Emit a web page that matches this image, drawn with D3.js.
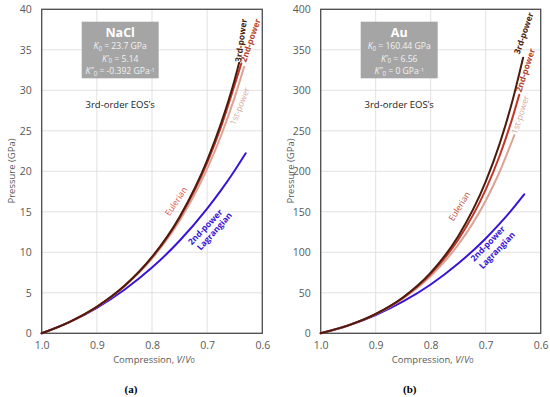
<!DOCTYPE html>
<html><head><meta charset="utf-8">
<script src="https://cdn.jsdelivr.net/npm/d3@7"></script>
<style>
html,body{margin:0;padding:0;background:#fff;}
svg{display:block;}
text{font-family:"Open Sans","Noto Sans",sans-serif;}
</style></head>
<body>
<svg id="chart" width="550" height="397"></svg>
<script>
// ---------- data ----------
const xTicks = [1.0, 0.9, 0.8, 0.7, 0.6];
const naclYTicks = [0, 5, 10, 15, 20, 25, 30, 35, 40];
const auYTicks = [0, 50, 100, 150, 200, 250, 300, 350, 400];

// NaCl, compression V/V0 and pressure (GPa)
const naclV3rd = [1.0, 0.95, 0.9, 0.85, 0.8, 0.75, 0.7, 0.675, 0.65, 0.642];
const naclP3rd = [0, 1.39, 3.28, 5.86, 9.42, 14.37, 21.35, 25.89, 31.34, 33.4];
const naclV2nd = [1.0, 0.95, 0.9, 0.85, 0.8, 0.75, 0.7, 0.675, 0.65, 0.638];
const naclP2nd = [0, 1.39, 3.27, 5.85, 9.38, 14.25, 21.05, 25.45, 30.7, 33.3];
const naclV1st = [1.0, 0.95, 0.9, 0.85, 0.8, 0.75, 0.7, 0.675, 0.65, 0.633];
const naclP1st = [0, 1.38, 3.26, 5.79, 9.22, 13.89, 20.3, 24.36, 29.16, 32.9];
const naclVLag = [1.0, 0.95, 0.9, 0.85, 0.8, 0.75, 0.7, 0.675, 0.65, 0.63];
const naclPLag = [0, 1.37, 3.15, 5.38, 8.11, 11.42, 15.39, 17.64, 20.1, 22.23];

// Au
const auV3rd = [1.0, 0.95, 0.9, 0.85, 0.8, 0.75, 0.7, 0.675, 0.65, 0.632];
const auP3rd = [0, 9.74, 23.92, 44.58, 74.89, 119.8, 187.2, 233.2, 290.4, 340.1];
const auV2nd = [1.0, 0.95, 0.9, 0.85, 0.8, 0.75, 0.7, 0.675, 0.65, 0.639];
const auP2nd = [0, 9.73, 23.79, 44.04, 73.24, 115.5, 177.4, 218.6, 269.0, 294.6];
const auV1st = [1.0, 0.95, 0.9, 0.85, 0.8, 0.75, 0.7, 0.675, 0.648];
const auP1st = [0, 9.71, 23.58, 43.17, 70.68, 109.3, 163.7, 198.8, 244.5];
const auVLag = [1.0, 0.95, 0.9, 0.85, 0.8, 0.75, 0.7, 0.675, 0.65, 0.63];
const auPLag = [0, 9.59, 22.55, 39.26, 60.2, 86.12, 117.1, 135.0, 154.5, 171.5];

const colors = {third: "#4b1c0e", second: "#c2372a", first: "#dba393", lag: "#3a14d6"};

// ---------- drawing ----------
const svg = d3.select("#chart");

const panels = [
  {x0: 41.7, x1: 262.3, yMax: 40, yTicks: naclYTicks, name: "NaCl",
   params: ["23.7 GPa", "5.14", "-0.392 GPa"], paramSup: [false, false, true], caption: "(a)",
   series: [
     {v: naclVLag, p: naclPLag, c: colors.lag},
     {v: naclV1st, p: naclP1st, c: colors.first},
     {v: naclV2nd, p: naclP2nd, c: colors.second},
     {v: naclV3rd, p: naclP3rd, c: colors.third}],
   labels: [
     {t: "3rd-power", x: 241.8, y: 40.5, a: -82, c: colors.third, bold: true},
     {t: "2nd-power", x: 251.3, y: 40.5, a: -71, c: "#b5452f", bold: true},
     {t: "1st-power", x: 240.5, y: 106.5, a: -68, c: "#d9a99b", bold: false},
     {t: "Eulerian", x: 176.7, y: 201.7, a: -56, c: "#e0544a", bold: false},
     {t: "2nd-power", x: 205.8, y: 227.5, a: -46, c: colors.lag, bold: true},
     {t: "Lagrangian", x: 215, y: 231.7, a: -48, c: colors.lag, bold: true}]},
  {x0: 320.7, x1: 540.7, yMax: 400, yTicks: auYTicks, name: "Au",
   params: ["160.44 GPa", "6.56", "0 GPa"], paramSup: [false, false, true], caption: "(b)",
   series: [
     {v: auVLag, p: auPLag, c: colors.lag},
     {v: auV1st, p: auP1st, c: colors.first},
     {v: auV2nd, p: auP2nd, c: colors.second},
     {v: auV3rd, p: auP3rd, c: colors.third}],
   labels: [
     {t: "3rd-power", x: 524.5, y: 33.5, a: -71, c: colors.third, bold: true},
     {t: "2nd-power", x: 526, y: 70.5, a: -72, c: "#b5452f", bold: true},
     {t: "1st-power", x: 521, y: 115, a: -72, c: "#d9a99b", bold: false},
     {t: "Eulerian", x: 460, y: 206.7, a: -58, c: "#c0503a", bold: false},
     {t: "2nd-power", x: 488.3, y: 244.2, a: -46, c: colors.lag, bold: true},
     {t: "Lagrangian", x: 497.5, y: 250.8, a: -46, c: colors.lag, bold: true}]}
];

const yTop = 9.3, yBot = 333.3;

panels.forEach(pn => {
  const x = d3.scaleLinear().domain([1.0, 0.6]).range([pn.x0, pn.x1]);
  const y = d3.scaleLinear().domain([0, pn.yMax]).range([yBot, yTop]);
  const g = svg.append("g");

  // grid
  g.append("g").selectAll("line").data(pn.yTicks).join("line")
    .attr("x1", pn.x0).attr("x2", pn.x1).attr("y1", d => y(d)).attr("y2", d => y(d))
    .attr("stroke", "#d9d9d9").attr("stroke-width", 0.8);
  g.append("g").selectAll("line").data(xTicks).join("line")
    .attr("x1", d => x(d)).attr("x2", d => x(d)).attr("y1", yTop).attr("y2", yBot)
    .attr("stroke", "#d9d9d9").attr("stroke-width", 0.8);

  // axes (labels only)
  const ya = g.append("g").attr("transform", `translate(${pn.x0},0)`)
    .call(d3.axisLeft(y).tickValues(pn.yTicks).tickSize(0).tickPadding(10));
  const xa = g.append("g").attr("transform", `translate(0,${yBot})`)
    .call(d3.axisBottom(x).tickValues(xTicks).tickSize(0).tickPadding(8).tickFormat(d3.format(".1f")));
  [ya, xa].forEach(a => {
    a.select(".domain").remove();
    a.selectAll("text").attr("fill", "#595959").style("font-size", "10.5px")
      .style("font-family", '"Open Sans","Noto Sans",sans-serif');
  });

  // frame
  g.append("rect").attr("x", pn.x0).attr("y", yTop).attr("width", pn.x1 - pn.x0).attr("height", yBot - yTop)
    .attr("fill", "none").attr("stroke", "#4d4d4d").attr("stroke-width", 1.3);

  // curves
  const line = d3.line().x(d => x(d[0])).y(d => y(d[1])).curve(d3.curveMonotoneX);
  pn.series.forEach(s => {
    g.append("path").datum(s.v.map((v, i) => [v, s.p[i]]))
      .attr("d", line).attr("fill", "none").attr("stroke", s.c).attr("stroke-width", 2)
      .attr("stroke-linecap", "round");
  });

  // curve labels
  pn.labels.forEach(l => {
    g.append("text").attr("transform", `translate(${l.x},${l.y}) rotate(${l.a})`)
      .attr("text-anchor", "middle").attr("dominant-baseline", "middle")
      .attr("fill", l.c).style("font-size", "8.5px").style("font-weight", l.bold ? 700 : 400)
      .text(l.t);
  });

  // info box
  const bx = pn.x0 + 40, bw = 77, by = 21.7, bh = 56.6;
  const cx = bx + bw / 2;
  g.append("rect").attr("x", bx).attr("y", by).attr("width", bw).attr("height", bh).attr("fill", "#a5a5a5");
  g.append("text").attr("x", cx).attr("y", 37).attr("text-anchor", "middle").attr("fill", "#ffffff")
    .style("font-size", "12.5px").style("font-weight", 700).text(pn.name);
  const primes = ["", "′", "″"];
  primes.forEach((pr, i) => {
    const t = g.append("text").attr("x", cx).attr("y", 49.3 + i * 12.5).attr("text-anchor", "middle")
      .attr("fill", "#f2f2f2").style("font-size", "8.6px");
    t.append("tspan").style("font-style", "italic").text("K");
    if (pr) t.append("tspan").style("font-style", "italic").text(pr);
    t.append("tspan").attr("dy", 1.5).style("font-size", "6.2px").text("0");
    t.append("tspan").attr("dy", -1.5).text(" = " + pn.params[i]);
    if (pn.paramSup[i]) {
      t.append("tspan").attr("dy", -2.5).style("font-size", "5.8px").text("-1");
    }
  });

  // 3rd-order EOS's
  g.append("text").attr("x", cx).attr("y", 108).attr("text-anchor", "middle").attr("fill", "#1a1a1a")
    .style("font-size", "9.5px").text("3rd-order EOS’s");

  // axis titles
  g.append("text").attr("transform", `translate(${pn.x0 - 27},171) rotate(-90)`)
    .attr("text-anchor", "middle").attr("fill", "#595959").style("font-size", "9.5px").text("Pressure (GPa)");
  const xt = g.append("text").attr("x", (pn.x0 + pn.x1) / 2 + 2).attr("y", 363).attr("text-anchor", "middle")
    .attr("fill", "#595959").style("font-size", "9.5px");
  xt.append("tspan").text("Compression, ");
  xt.append("tspan").style("font-style", "italic").text("V");
  xt.append("tspan").text("/");
  xt.append("tspan").style("font-style", "italic").text("V");
  xt.append("tspan").style("font-size", "7.5px").text("0");

  // caption
  svg.append("text").attr("x", (pn.x0 + pn.x1) / 2 - 21).attr("y", 393).attr("text-anchor", "middle")
    .attr("fill", "#000").style("font-family", '"Liberation Serif","DejaVu Serif",serif')
    .style("font-size", "11px").style("font-weight", 700).text(pn.caption);
});
</script>
</body></html>
